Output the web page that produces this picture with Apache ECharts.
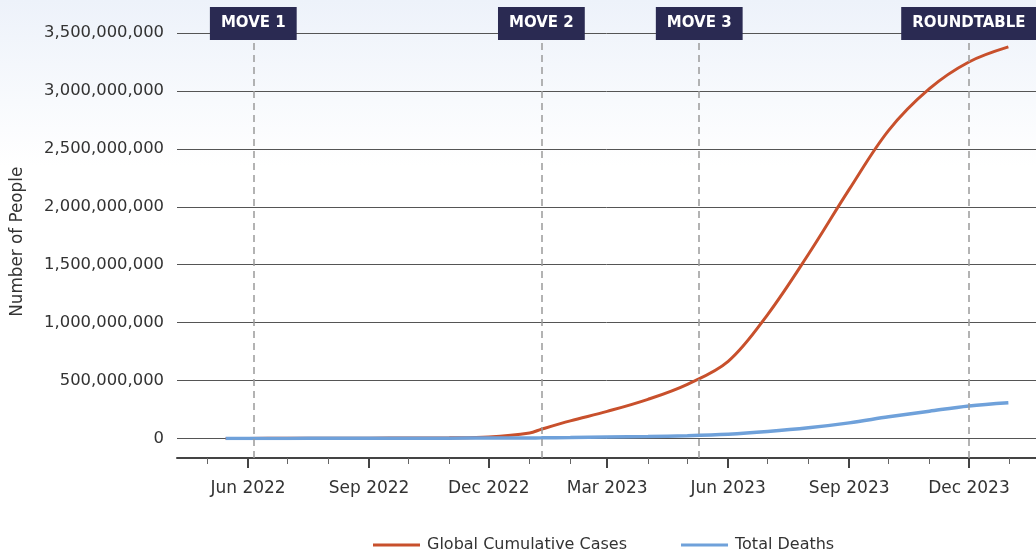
<!DOCTYPE html>
<html>
<head>
<meta charset="utf-8">
<script src="https://cdn.jsdelivr.net/npm/echarts@6/dist/echarts.min.js"></script>
<style>
  html, body { margin: 0; padding: 0; }
  #chart { width: 1036px; height: 555px; }
</style>
</head>
<body>
<div id="chart"></div>
<script>
// data (values in millions of people)
var dates = ['2022-05-15', '2022-06-01', '2022-07-01', '2022-08-01', '2022-09-01', '2022-10-01',
    '2022-11-01', '2022-12-01', '2023-01-01', '2023-01-10', '2023-02-01', '2023-03-01',
    '2023-04-01', '2023-05-01', '2023-06-01', '2023-07-01', '2023-08-01', '2023-09-01',
    '2023-10-01', '2023-11-01', '2023-12-01', '2023-12-31'];
var cases = [0.5, 1, 1.5, 2, 3, 4, 6, 14, 48, 80, 152, 234, 338, 468, 666, 1070, 1590, 2150,
    2660, 3020, 3250, 3380];
var deaths = [0.5, 1, 1, 1.5, 2, 2.5, 3, 4, 5, 5.5, 8, 12, 17, 24, 37, 60, 92, 135, 187, 236,
    281, 309];

var eventNames = ['MOVE 1', 'MOVE 2', 'MOVE 3', 'ROUNDTABLE'];
var eventDates = ['2022-06-05', '2023-01-10', '2023-05-10', '2023-12-01'];

var labelMonths = ['2022-06-01', '2022-09-01', '2022-12-01', '2023-03-01', '2023-06-01',
    '2023-09-01', '2023-12-01'];
var tickMonths = ['2022-05-01', '2022-06-01', '2022-07-01', '2022-08-01', '2022-09-01',
    '2022-10-01', '2022-11-01', '2022-12-01', '2023-01-01', '2023-02-01', '2023-03-01',
    '2023-04-01', '2023-05-01', '2023-06-01', '2023-07-01', '2023-08-01', '2023-09-01',
    '2023-10-01', '2023-11-01', '2023-12-01', '2024-01-01'];
var xMin = '2022-04-08';
var xMax = '2024-01-21';

var monthNames = ['Jan', 'Feb', 'Mar', 'Apr', 'May', 'Jun', 'Jul', 'Aug', 'Sep', 'Oct', 'Nov', 'Dec'];

function toTime(s) {
    var p = s.split('-');
    return new Date(+p[0], +p[1] - 1, +p[2]).getTime();
}

var font = 'DejaVu Sans';
var textColor = '#333333';

var chart = echarts.init(document.getElementById('chart'));

var casesData = dates.map(function (d, i) { return [toTime(d), cases[i] * 1e6]; });
var deathsData = dates.map(function (d, i) { return [toTime(d), deaths[i] * 1e6]; });

var option = {
    backgroundColor: {
        type: 'linear', x: 0, y: 0, x2: 0, y2: 1,
        colorStops: [{ offset: 0, color: '#edf2fa' }, { offset: 0.3, color: '#ffffff' }]
    },
    textStyle: { fontFamily: font },
    animation: false,
    grid: [
        { left: 177, right: 0, top: 33, bottom: 555 - 438.5, outerBoundsMode: 'none' },
        { left: 177, right: 0, top: 40, bottom: 555 - 458, outerBoundsMode: 'none' }
    ],
    legend: {
        left: 368,
        top: 532,
        data: ['Global Cumulative Cases', 'Total Deaths'],
        icon: 'rect',
        itemWidth: 47,
        itemHeight: 3,
        itemGap: 54,
        textStyle: { fontFamily: font, fontSize: 16, color: textColor, padding: [0, 0, 0, 2] }
    },
    xAxis: [
        {
            type: 'value', gridIndex: 0, min: toTime(xMin), max: toTime(xMax), show: false
        },
        {
            // monthly minor ticks + axis line
            type: 'value', gridIndex: 1, position: 'bottom',
            min: toTime(xMin), max: toTime(xMax),
            axisLine: { show: true, lineStyle: { color: '#444444', width: 2 } },
            axisTick: { show: true, length: 6, lineStyle: { color: '#666666', width: 1 },
                customValues: tickMonths.map(toTime) },
            axisLabel: { show: false },
            splitLine: { show: false }
        },
        {
            // quarterly major ticks with labels
            type: 'value', gridIndex: 1, position: 'bottom',
            min: toTime(xMin), max: toTime(xMax),
            axisLine: { show: false },
            axisTick: { show: true, length: 10, lineStyle: { color: '#444444', width: 2 },
                customValues: labelMonths.map(toTime) },
            axisLabel: {
                show: true, margin: 22, fontSize: 17, color: textColor, fontFamily: font,
                customValues: labelMonths.map(toTime),
                formatter: function (v) {
                    var d = new Date(v);
                    return monthNames[d.getMonth()] + ' ' + d.getFullYear();
                }
            },
            splitLine: { show: false }
        }
    ],
    yAxis: [
        {
            type: 'value', gridIndex: 0, min: 0, max: 3500e6, interval: 500e6,
            name: 'Number of People',
            nameLocation: 'middle',
            nameGap: 151,
            nameTextStyle: { fontSize: 16.8, color: textColor, fontFamily: font,
                padding: [0, 12, 0, 0] },
            axisLine: { show: false },
            axisTick: { show: false },
            axisLabel: {
                margin: 13, fontSize: 16.4, color: textColor, fontFamily: font,
                formatter: function (v) { return v.toLocaleString('en-US'); }
            },
            splitLine: { show: true, lineStyle: { color: '#555555', width: 1 } }
        },
        {
            type: 'value', gridIndex: 1, min: 0, max: 1, show: false
        }
    ],
    series: [
        {
            name: 'Global Cumulative Cases',
            type: 'line',
            xAxisIndex: 0, yAxisIndex: 0,
            data: casesData,
            smooth: 0.35,
            showSymbol: false,
            symbol: 'none',
            color: '#c8502c',
            lineStyle: { width: 3, color: '#c8502c' }
        },
        {
            name: 'Total Deaths',
            type: 'line',
            xAxisIndex: 0, yAxisIndex: 0,
            data: deathsData,
            smooth: 0.35,
            showSymbol: false,
            symbol: 'none',
            color: '#6fa1da',
            lineStyle: { width: 3.5, color: '#6fa1da' }
        },
        {
            name: 'events',
            type: 'line',
            xAxisIndex: 1, yAxisIndex: 1,
            data: [],
            silent: true,
            markLine: {
                symbol: ['none', 'none'],
                silent: true,
                animation: false,
                lineStyle: { color: '#9a9a9a', width: 1.5, type: [7, 5] },
                label: {
                    show: true,
                    position: 'end',
                    distance: 0,
                    backgroundColor: '#2a2a52',
                    color: '#ffffff',
                    fontFamily: font,
                    fontWeight: 'bold',
                    fontSize: 15,
                    padding: [9, 11, 9, 11],
                    formatter: function (p) { return p.name; }
                },
                emphasis: { disabled: true },
                data: eventDates.map(function (d, i) {
                    return { name: eventNames[i], xAxis: toTime(d) };
                })
            }
        }
    ]
};

chart.setOption(option);
</script>
</body>
</html>
